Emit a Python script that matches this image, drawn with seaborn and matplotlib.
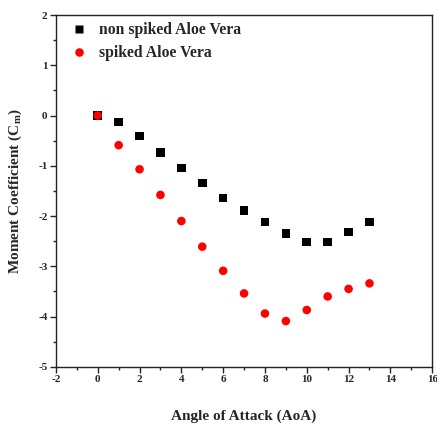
import numpy as np
import pandas as pd
import matplotlib
matplotlib.use("Agg")
import matplotlib.pyplot as plt
import seaborn as sns
from matplotlib.ticker import MultipleLocator

# data
aoa = [0, 1, 2, 3, 4, 5, 6, 7, 8, 9, 10, 11, 12, 13]
cm_non_spiked = [0.0, -0.13, -0.41, -0.74, -1.04, -1.34, -1.64, -1.89, -2.12, -2.35, -2.52, -2.52, -2.32, -2.12]
cm_spiked = [0.0, -0.59, -1.07, -1.58, -2.10, -2.61, -3.09, -3.54, -3.94, -4.09, -3.87, -3.60, -3.45, -3.34]
series_names = ["non spiked Aloe Vera", "spiked Aloe Vera"]

df = pd.DataFrame({
    "AoA": aoa * 2,
    "Cm": cm_non_spiked + cm_spiked,
    "series": [series_names[0]] * len(aoa) + [series_names[1]] * len(aoa),
})

sns.set_style("ticks")
plt.rcParams["font.family"] = ["Liberation Serif", "DejaVu Serif"]
plt.rcParams["axes.unicode_minus"] = False
plt.rcParams["mathtext.fontset"] = "custom"
plt.rcParams["mathtext.rm"] = "Liberation Serif"
plt.rcParams["mathtext.it"] = "Liberation Serif:bold"
plt.rcParams["mathtext.bf"] = "Liberation Serif:bold"

fig = plt.figure(figsize=(4.37, 4.29), dpi=100)
ax = fig.add_axes([0.128, 0.145, 0.861, 0.82])

sns.scatterplot(data=df, x="AoA", y="Cm", hue="series", style="series",
                markers={series_names[0]: "s", series_names[1]: "o"},
                palette={series_names[0]: "black", series_names[1]: "red"},
                s=38, edgecolor="none", ax=ax)

ax.set_xlim(-2, 16)
ax.set_ylim(-5, 2)
ax.xaxis.set_major_locator(MultipleLocator(2))
ax.xaxis.set_minor_locator(MultipleLocator(1))
ax.yaxis.set_major_locator(MultipleLocator(1))
ax.yaxis.set_minor_locator(MultipleLocator(0.5))
ax.tick_params(which="major", direction="out", length=4, width=1, labelsize=8, pad=2)
ax.tick_params(which="minor", direction="out", length=2.5, width=1)
for lab in ax.get_xticklabels() + ax.get_yticklabels():
    lab.set_fontweight("bold")
for sp in ax.spines.values():
    sp.set_linewidth(1)
    sp.set_color("#222222")

ax.set_xlabel("Angle of Attack (AoA)", fontsize=11, fontweight="bold", labelpad=18)
ax.set_ylabel("Moment Coefficient (C$_m$)", fontsize=11, fontweight="bold", labelpad=10)

leg = ax.legend(loc="upper left", frameon=False, prop={"size": 11.3, "weight": "bold"},
                handletextpad=0.3, labelspacing=0.45, borderaxespad=0.05, markerscale=1.0)

fig.savefig("out.png", dpi=100)
